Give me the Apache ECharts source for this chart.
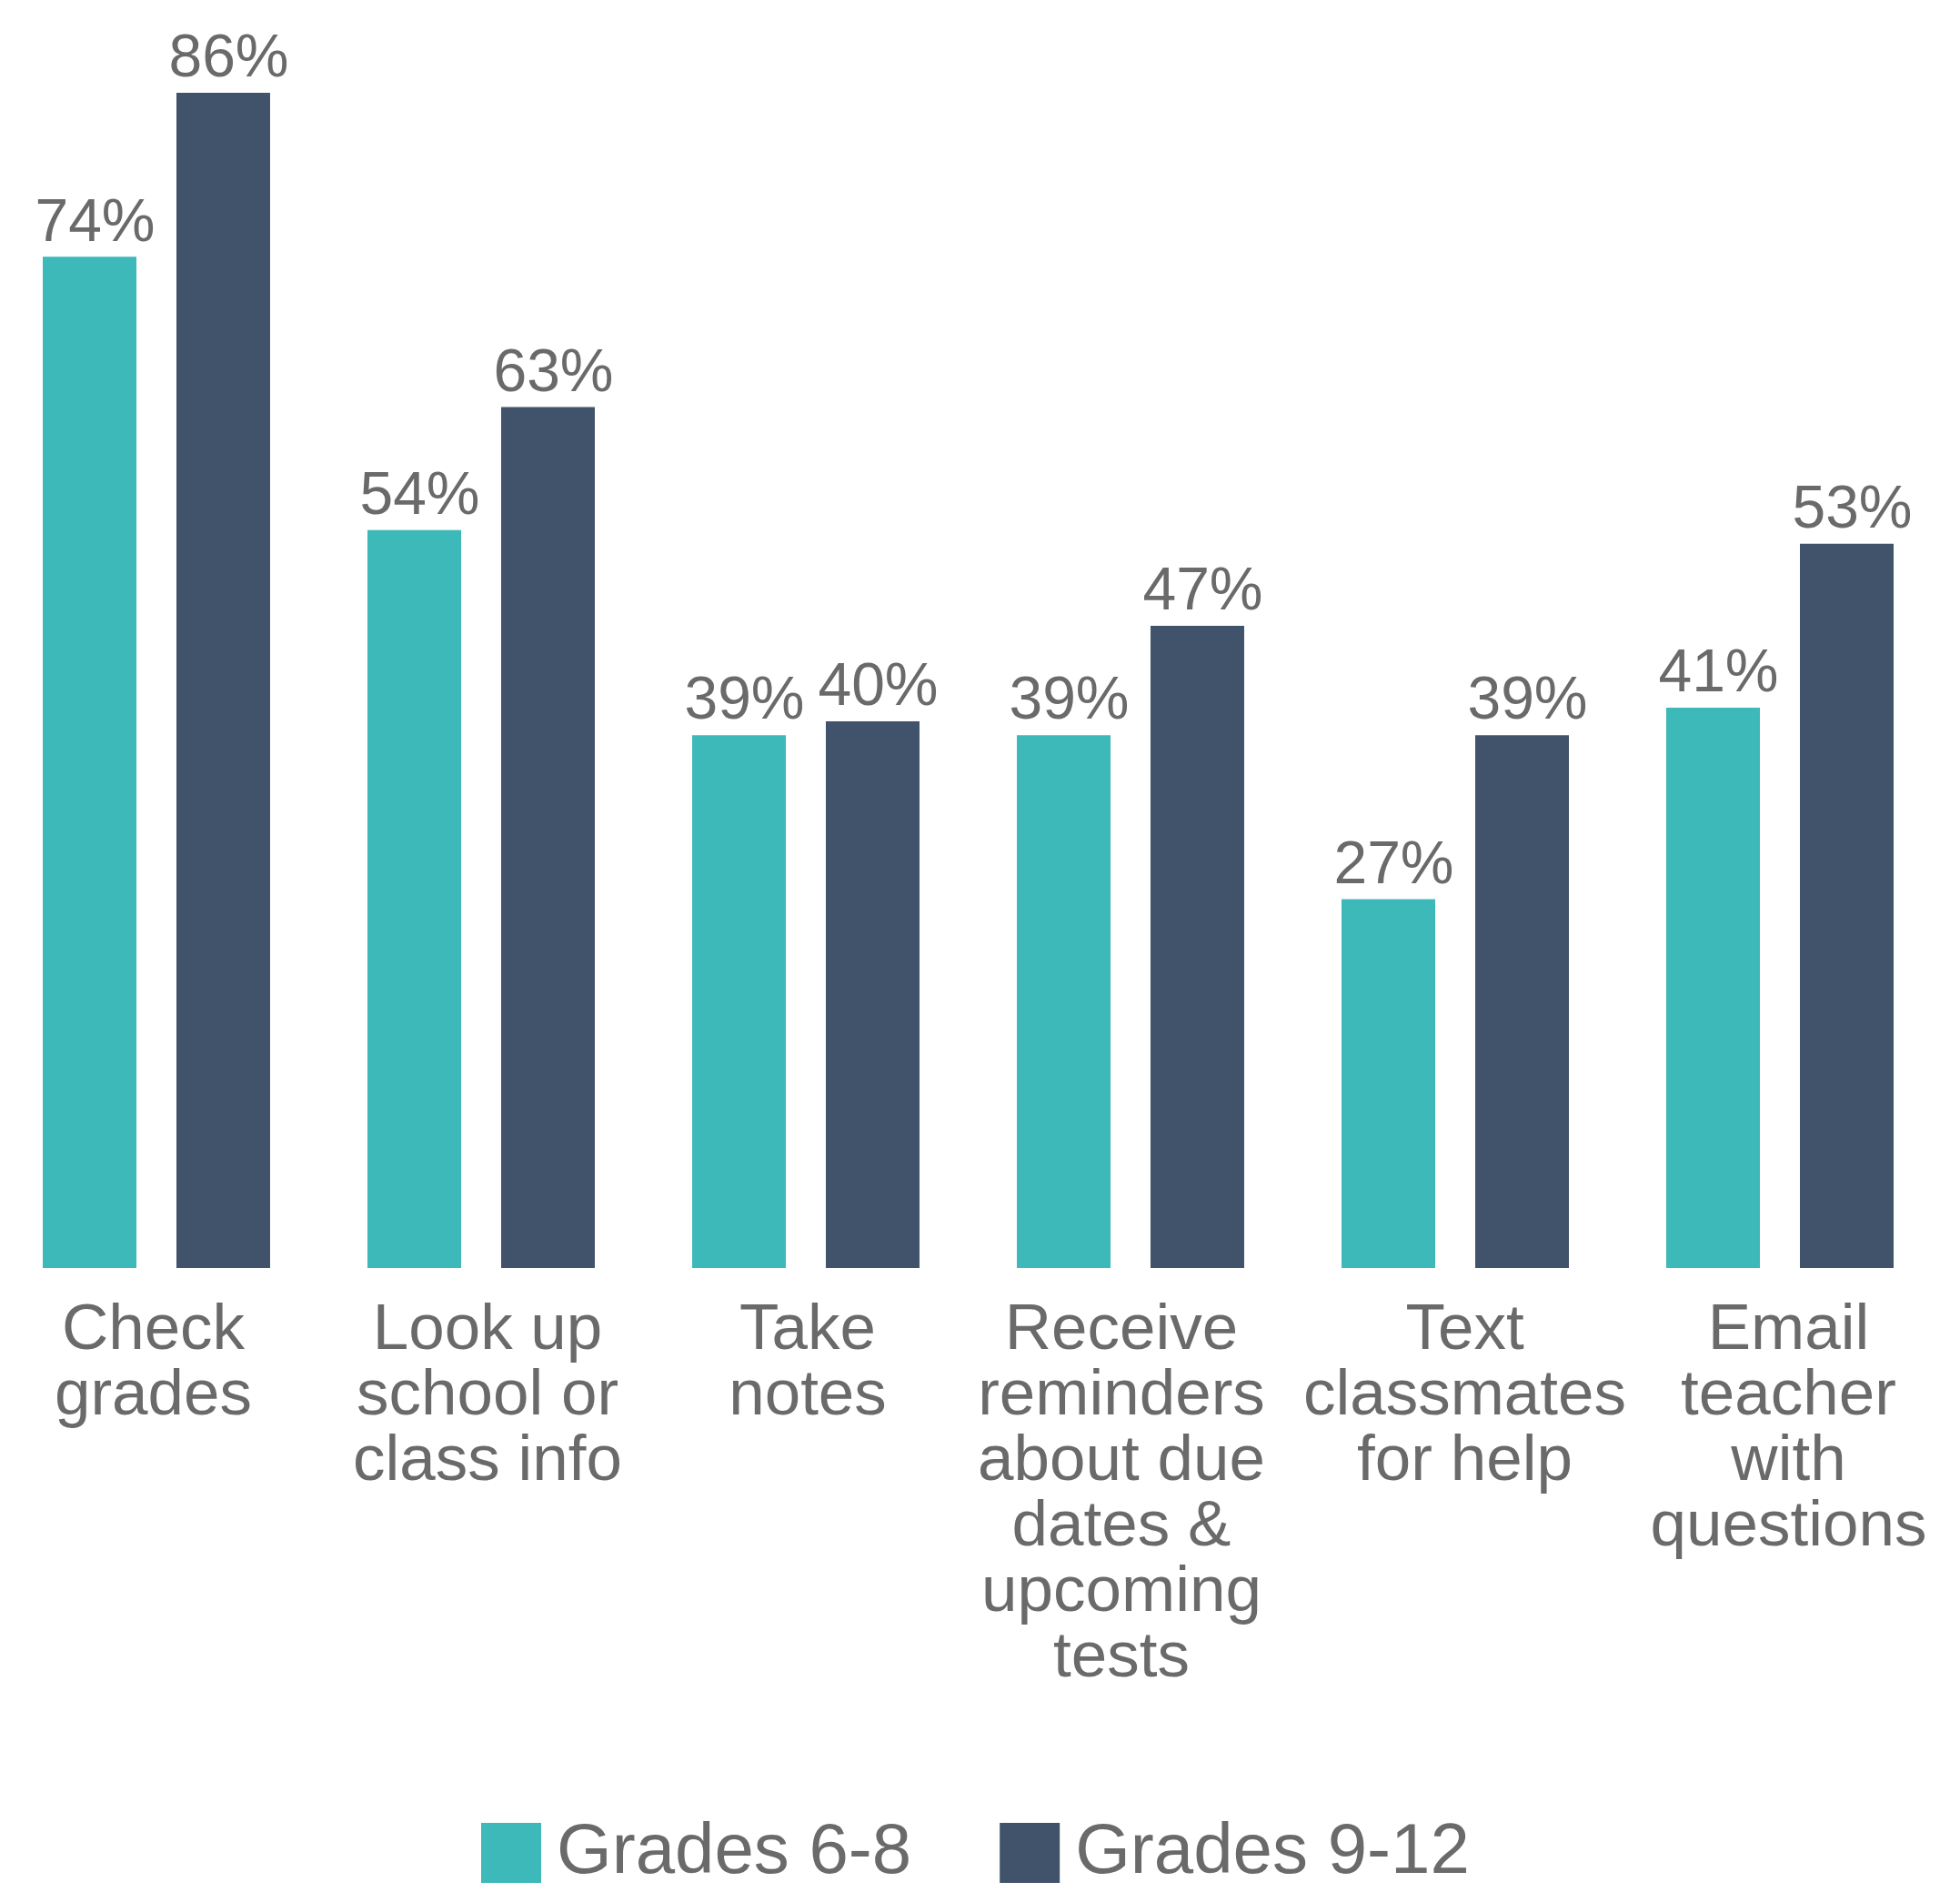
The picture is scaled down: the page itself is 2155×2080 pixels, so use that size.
<!DOCTYPE html>
<html>
<head>
<meta charset="utf-8">
<script src="https://cdn.jsdelivr.net/npm/echarts@6/dist/echarts.min.js"></script>
<style>
html,body{margin:0;padding:0;background:#fff;overflow:hidden;}
#chart{position:absolute;left:-20px;top:0;width:2175px;height:2080px;}
</style>
</head>
<body>
<div id="chart"></div>
<script>
const categories = [
  "Check\ngrades",
  "Look up\nschool or\nclass info",
  "Take\nnotes",
  "Receive\nreminders\nabout due\ndates &\nupcoming\ntests",
  "Text\nclassmates\nfor help",
  "Email\nteacher\nwith\nquestions"
];
const seriesNames = ["Grades 6-8", "Grades 9-12"];
const grades68 = [74, 54, 39, 39, 27, 41];
const grades912 = [86, 63, 40, 47, 39, 53];

const textColor = "#6a6a6a";
const font = "'Liberation Sans', Arial, Helvetica, sans-serif";

// horizontal nudges of each category label (style only)
const labelShift = [-3.5, 7, 2, -10, 10.5, 9.5];
const axisData = categories.map((c, i) => {
  const s = labelShift[i];
  return {
    value: c,
    textStyle: {padding: s >= 0 ? [0, 0, 0, 2 * s] : [0, -2 * s, 0, 0]}
  };
});

const chart = echarts.init(document.getElementById('chart'), null, {renderer: 'canvas'});
const labelOpt = {
  show: true,
  position: 'top',
  distance: 3,
  offset: [6, 0],
  formatter: '{c}%',
  color: textColor,
  fontSize: 66,
  fontFamily: font
};
chart.setOption({
  backgroundColor: '#ffffff',
  animation: false,
  grid: {left: 13.5, width: 2142, top: 42, bottom: 686, containLabel: false},
  legend: {
    data: seriesNames,
    left: 544,
    top: 1993,
    itemWidth: 66,
    itemHeight: 66,
    itemGap: 97,
    icon: 'rect',
    textStyle: {color: textColor, fontSize: 78, fontFamily: font, padding: [0, 0, 0, 12]}
  },
  xAxis: {
    type: 'category',
    data: axisData,
    axisLine: {show: false},
    axisTick: {show: false},
    axisLabel: {
      interval: 0,
      margin: 33,
      color: textColor,
      fontSize: 71,
      lineHeight: 72,
      fontFamily: font,
      align: 'center'
    }
  },
  yAxis: {type: 'value', min: 0, max: 90, show: false, splitLine: {show: false}},
  series: [
    {
      name: seriesNames[0],
      type: 'bar',
      data: grades68,
      barWidth: 103,
      barGap: '42.7%',
      itemStyle: {color: '#3cb9b8'},
      label: labelOpt
    },
    {
      name: seriesNames[1],
      type: 'bar',
      data: grades912,
      barWidth: 103,
      barGap: '42.7%',
      itemStyle: {color: '#41536b'},
      label: labelOpt
    }
  ]
});
</script>
</body>
</html>
